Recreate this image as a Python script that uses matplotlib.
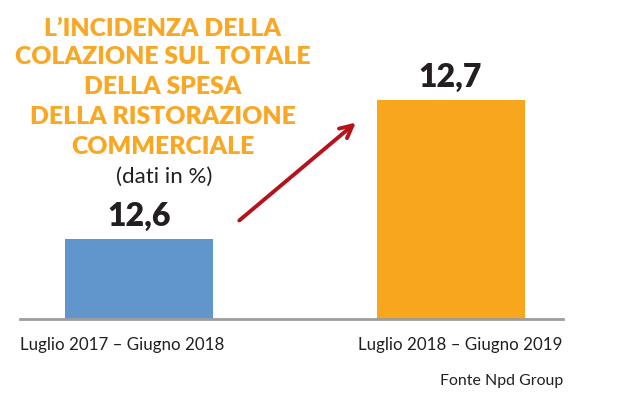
import matplotlib.pyplot as plt
import matplotlib.transforms as mtrans

# data
periods = ['Luglio 2017 – Giugno 2018', 'Luglio 2018 – Giugno 2019']
values  = [12.6, 12.7]
labels  = ['12,6', '12,7']
colors  = ['#6096cb', '#f9a61f']
title_lines = ["L’INCIDENZA DELLA", "COLAZIONE SUL TOTALE", "DELLA SPESA",
               "DELLA RISTORAZIONE", "COMMERCIALE"]
subtitle = '(dati in %)'
source   = 'Fonte Npd Group'

W, H = 625, 396
fig = plt.figure(figsize=(W/100, H/100), dpi=100)
ax = fig.add_axes([20/W, 77/H, 543/W, 319/H])

x = [0, 1]
ax.bar(x, values, width=0.475, color=colors, zorder=2)
ax.set_xlim(-0.382, 1.361)
ax.set_ylim(12.5424, 12.7719)

for xi, v, lab in zip(x, values, labels):
    ax.annotate(lab, (xi, v), xytext=(0, 6), textcoords='offset points',
                ha='center', va='bottom', fontsize=23, fontweight='heavy',
                family='Lato', color='#231f20')

for s in ['top', 'left', 'right']:
    ax.spines[s].set_visible(False)
ax.spines['bottom'].set_color('#9d9d9d')
ax.spines['bottom'].set_linewidth(2)
ax.set_yticks([])
ax.set_xticks(x)
ax.set_xticklabels(periods, family='Lato', fontsize=12.2, color='#231f20')
ax.tick_params(axis='x', length=0, pad=13)
# first label flush left, second flush right
tl = ax.get_xticklabels()
tl[0].set_ha('left')
tl[1].set_ha('right')
tl[0].set_transform(tl[0].get_transform()
                    + mtrans.ScaledTranslation(-119/100, 0, fig.dpi_scale_trans))
tl[1].set_transform(tl[1].get_transform()
                    + mtrans.ScaledTranslation(112/100, 0, fig.dpi_scale_trans))

# arrow
ax.annotate('', xy=(0.703, 12.685), xytext=(0.315, 12.612),
            arrowprops=dict(arrowstyle='->,head_length=0.9,head_width=0.45',
                            color='#b5121b', lw=2.8))

# title
ys = [29, 57, 87, 117, 147]
for line, yp in zip(title_lines, ys):
    fig.text(163/W, 1 - yp/H, line, ha='center', va='center', fontsize=17.8,
             fontweight='heavy', family='Lato', color='#f9a825')
fig.text(164/W, 1 - 177/H, subtitle, ha='center', va='center', fontsize=16,
         family='Lato', color='#231f20')
fig.text(563/W, 1 - 381/H, source, ha='right', va='center', fontsize=11.4,
         family='Lato', color='#231f20')

fig.savefig('out.png', dpi=100)
